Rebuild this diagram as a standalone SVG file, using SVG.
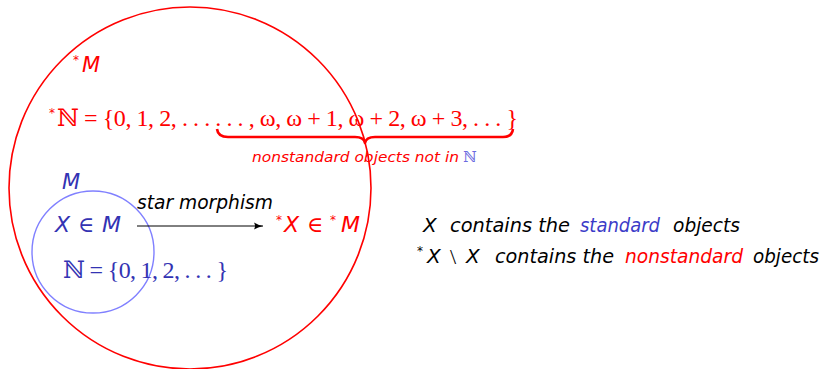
<svg xmlns="http://www.w3.org/2000/svg" width="824" height="369" viewBox="0 0 824 369">
<defs>
<style>
.sans{font-family:"DejaVu Sans","Liberation Sans",sans-serif;}
.it{font-style:italic;}
.math{font-family:"Liberation Serif","DejaVu Serif",serif;}
.red{fill:#ff0000;}
.blue{fill:#3333b3;}
.blk{fill:#000000;}
</style>
<marker id="arr" markerWidth="10" markerHeight="8" refX="9" refY="4" orient="auto" markerUnits="userSpaceOnUse">
<path d="M0,0.5 Q4,3 9,4 Q4,5 0,7.5 Q2,4 0,0.5 Z" fill="#000"/>
</marker>
</defs>
<rect width="824" height="369" fill="#fff"/>

<g id="starM">
<circle cx="190" cy="188" r="181" fill="none" stroke="#ff0000" stroke-width="1.6"/>
<text class="sans red" font-size="12" x="73" y="64">*</text>
<text class="sans it red" font-size="21" x="82" y="72">M</text>
<text class="sans red" font-size="12" x="49" y="117">*</text>
<text class="math red" font-size="24" x="57" y="126" textLength="461" lengthAdjust="spacing">ℕ = {0, 1, 2, . . . . . . , ω, ω + 1, ω + 2, ω + 3, . . . }</text>
</g>

<g id="brace">
<path d="M217,129 Q218,137 228,137 L355,137 Q364,137 365,143 Q366,137 375,137 L503,137 Q512,137 513,129" fill="none" stroke="#ff0000" stroke-width="2.6" stroke-linejoin="round"/>
<text class="sans it red" font-size="14.5" x="252" y="162" textLength="207" lengthAdjust="spacingAndGlyphs">nonstandard objects not in</text>
<text class="math" font-size="15" x="463" y="162" fill="#6a6ae0">ℕ</text>
</g>

<g id="M">
<circle cx="93" cy="252" r="61" fill="none" stroke="#8080ff" stroke-width="1.4"/>
<text class="sans it blue" font-size="21" x="62" y="189">M</text>
<text class="sans it blue" font-size="22" x="55" y="232">X</text>
<text class="math blue" font-size="22" x="78" y="232">∈</text>
<text class="sans it blue" font-size="22" x="102" y="232">M</text>
<text class="math blue" font-size="24" x="63" y="278" textLength="165" lengthAdjust="spacing">ℕ = {0, 1, 2, . . . }</text>
</g>

<g id="starX">
<text class="sans red" font-size="12" x="276" y="224">*</text>
<text class="sans it red" font-size="22" x="284" y="232">X</text>
<text class="math red" font-size="22" x="307" y="232">∈</text>
<text class="sans red" font-size="12" x="330" y="224">*</text>
<text class="sans it red" font-size="22" x="341" y="232">M</text>
</g>

<g id="connectors">
<line x1="137" y1="226" x2="263" y2="226" stroke="#000" stroke-width="1" marker-end="url(#arr)"/>
<text class="sans it blk" font-size="20" x="137" y="209" textLength="136" lengthAdjust="spacingAndGlyphs">star morphism</text>
</g>

<g id="notes">
<text class="sans it blk" font-size="20" x="423" y="232">X</text>
<text class="sans it blk" font-size="20" x="450" y="232" textLength="120" lengthAdjust="spacingAndGlyphs">contains the</text>
<text class="sans it" font-size="20" x="580" y="232" fill="#3c3cc8" textLength="80" lengthAdjust="spacingAndGlyphs">standard</text>
<text class="sans it blk" font-size="20" x="673" y="232" textLength="67" lengthAdjust="spacingAndGlyphs">objects</text>

<text class="sans blk" font-size="12" x="417" y="255">*</text>
<text class="sans it blk" font-size="20" x="427" y="263">X</text>
<text class="math blk" font-size="22" x="450" y="264">\</text>
<text class="sans it blk" font-size="20" x="466" y="263">X</text>
<text class="sans it blk" font-size="20" x="495" y="263" textLength="119" lengthAdjust="spacingAndGlyphs">contains the</text>
<text class="sans it red" font-size="20" x="625" y="263" textLength="118" lengthAdjust="spacingAndGlyphs">nonstandard</text>
<text class="sans it blk" font-size="20" x="753" y="263" textLength="66" lengthAdjust="spacingAndGlyphs">objects</text>
</g>
</svg>
